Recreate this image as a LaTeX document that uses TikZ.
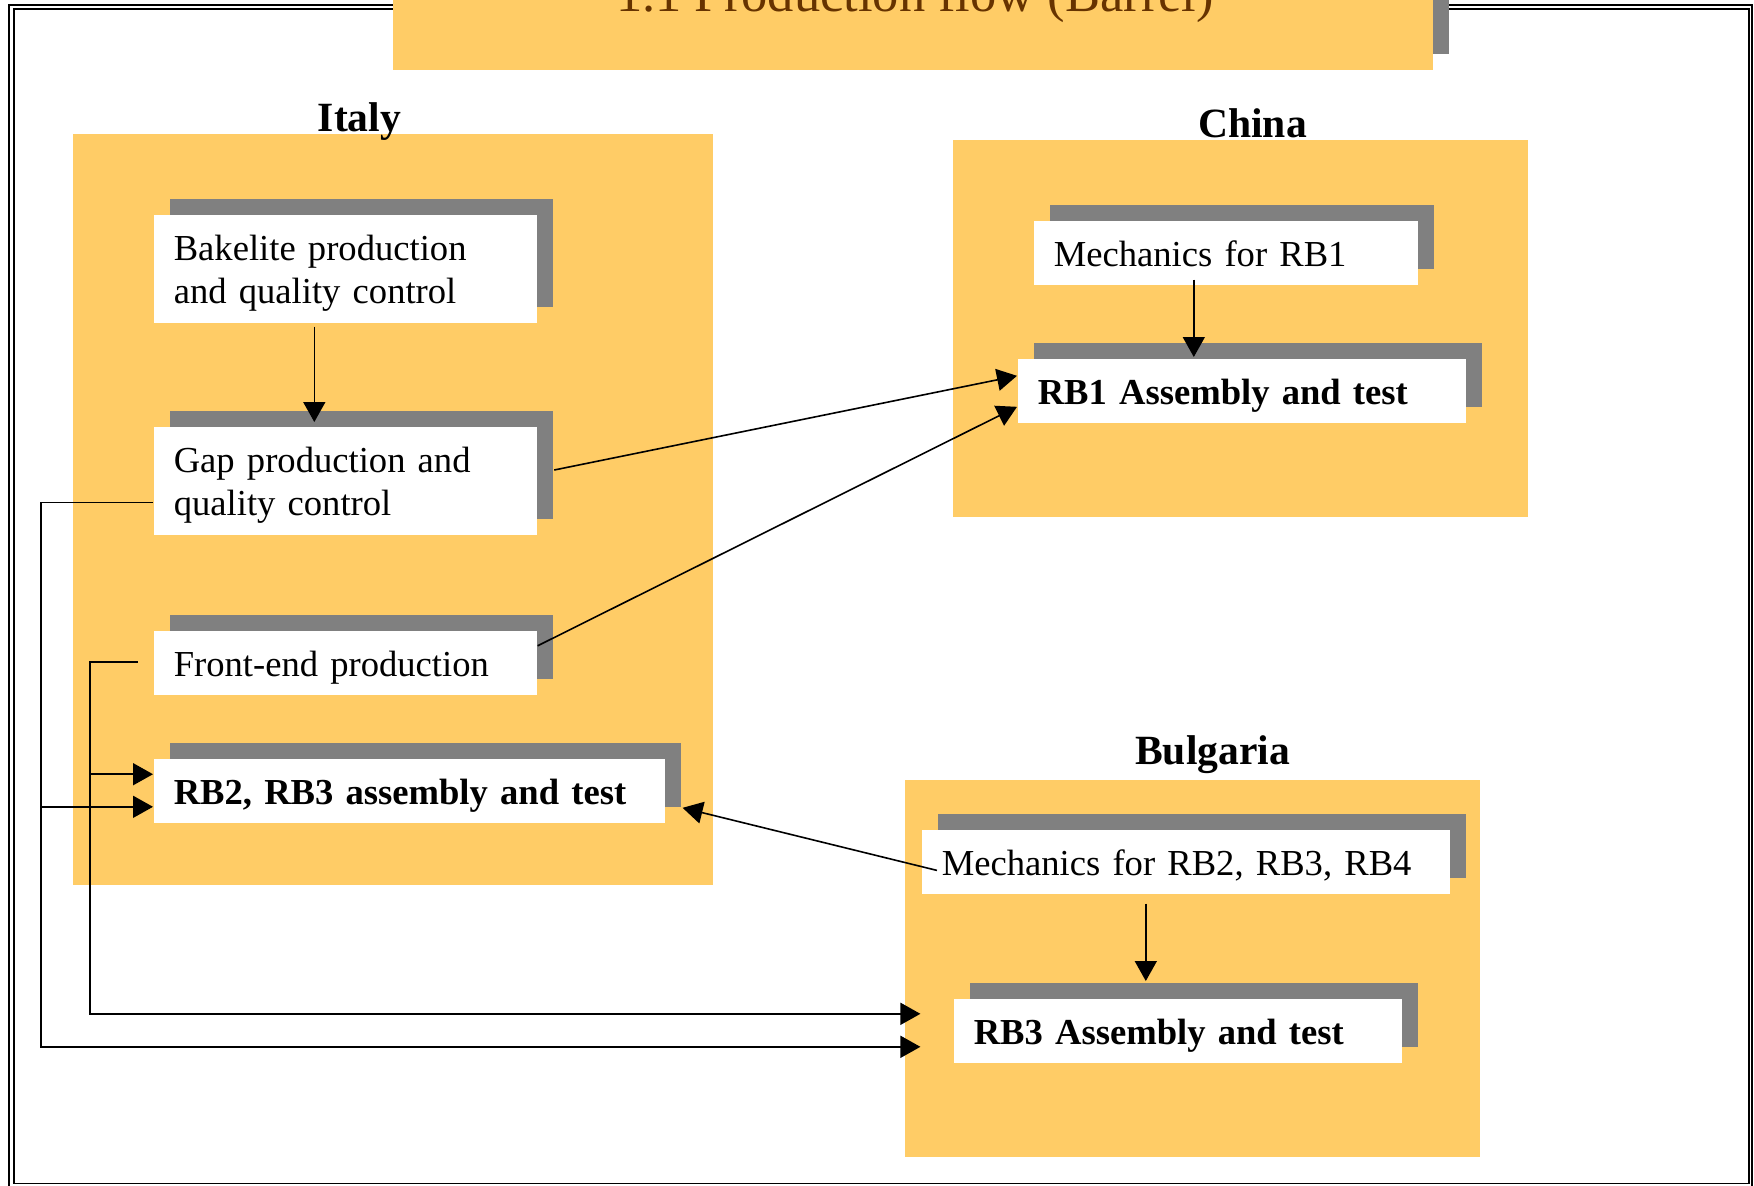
\documentclass[tikz,border=0pt]{standalone}
\usepackage{fontspec}
\setmainfont{Liberation Serif}
\usetikzlibrary{arrows.meta,calc}

\definecolor{regionorange}{RGB}{255,204,102}
\definecolor{shadowgray}{RGB}{128,128,128}
\definecolor{titlebrown}{RGB}{102,51,0}

\tikzset{every picture/.style={line width=0.8pt}}
\tikzset{
  stepbox/.style={fill=white, anchor=north west, inner xsep=10pt, inner ysep=0pt,
    align=left, minimum height=32pt, text height=17.8pt, text depth=4.3pt,
    font=\fontsize{18.3}{21.5}\selectfont,
    preaction={fill=shadowgray, transform canvas={xshift=8pt,yshift=8pt}}},
  twoline/.style={minimum height=54pt, text depth=25.8pt},
  boldbox/.style={font=\fontsize{18.3}{21.5}\selectfont\bfseries},
  country/.style={anchor=base, inner sep=0pt, font=\fontsize{20.8}{24}\selectfont\bfseries},
  arr/.style={-{Triangle[length=10pt,width=11pt]}},
  frameline/.style={line width=0.9pt}
}

\begin{document}
\begin{tikzpicture}[x=0.5pt,y=0.5pt,yscale=-1,xscale=1]
\useasboundingbox (0,0) rectangle (1754,1185);

%Shape: Frame (double line)
\draw [frameline] (9.3,5) rectangle (1751.7,1190);
\draw [frameline] (13.8,9.3) rectangle (1748.7,1183.5);

%Shape: Title banner
\fill [shadowgray] (409,-40) rectangle (1449,53.5);
\fill [regionorange] (393,-40) rectangle (1433,69.7);
% Text Node
\node (title) [anchor=base, inner sep=0pt, text=titlebrown, font=\fontsize{26.25}{30}\selectfont] at (915,11) {1.1 Production flow (Barrel)};

%Shape: Country areas
\fill [regionorange] (72.7,134) rectangle (712.5,885);
\fill [regionorange] (953,140) rectangle (1528,517);
\fill [regionorange] (905,780) rectangle (1480,1157);

% Text Node
\node (italy) [country] at (359.5,131.5) {Italy};
% Text Node
\node (china) [country] at (1252.5,137) {China};
% Text Node
\node (bulgaria) [country] at (1212.6,764) {Bulgaria};

%Italy
\node (bake) [stepbox, twoline, text width=171.5pt] at (153,214) {Bakelite production\\and quality control};
\node (gap) [stepbox, twoline, text width=171.5pt] at (153,426) {Gap production and\\quality control};
\node (front) [stepbox, text width=171.5pt] at (153,630) {Front-end production};
\node (rb23) [stepbox, boldbox, text width=235.5pt] at (153,758) {RB2, RB3 assembly and test};

%China
\node (mech1) [stepbox, text width=172pt] at (1033,220) {Mechanics for RB1};
\node (rb1) [stepbox, boldbox, text width=204pt] at (1017,358) {RB1 Assembly and test};

%Bulgaria
\node (mech2) [stepbox, text width=244pt] at (921,829) {Mechanics for RB2, RB3, RB4};
\node (rb3) [stepbox, boldbox, text width=204pt] at (953,998) {RB3 Assembly and test};

%Connector ends
\coordinate (m1out) at ($(mech1.south)+(-32,-6)$);
\coordinate (m2out) at ($(mech2.south)+(-40,9)$);
\coordinate (gapout) at ($(gap.west)+(0,21.5)$);
\coordinate (frontout) at ($(front.west)+(-15.3,-1)$);
\coordinate (rb23inA) at ($(rb23.west)+(0,16)$);
\coordinate (rb23inB) at ($(rb23.west)+(0,-16.6)$);
\coordinate (rb3inA) at ($(rb3.west)+(-32.6,16)$);
\coordinate (rb3inB) at ($(rb3.west)+(-32.6,-17)$);

%Straight Lines
\draw [arr] ($(bake.south)+(-31,3)$) -- ($(gap.north)+(-31,-4)$);
\draw [arr] (m1out) -- ($(m1out |- rb1.north)+(0,-1)$);
\draw [arr] (m2out) -- ($(m2out |- rb3.north)+(0,-17)$);
\draw [arr] ($(gap.east)+(16.6,-10.8)$) -- ($(rb1.west)+(0,-15)$);
\draw [arr] ($(front.east)+(0,-17)$) -- ($(rb1.west)+(0,16)$);
\draw [arr] ($(mech2.west)+(16,8.6)$) -- ($(rb23.east)+(17,17)$);

%Elbow Lines
\draw [arr] (gapout) -- ++(-112,0) coordinate (busA) |- (rb3inA);
\draw [arr] (busA |- rb23inA) -- (rb23inA);
\draw [arr] (frontout) -- ++(-48,0) coordinate (busB) |- (rb3inB);
\draw [arr] (busB |- rb23inB) -- (rb23inB);

\end{tikzpicture}
\end{document}
